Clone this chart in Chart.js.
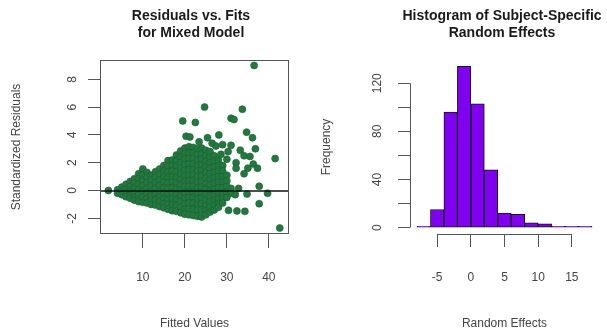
<!DOCTYPE html>
<html>
<head>
<meta charset="utf-8">
<script src="https://cdn.jsdelivr.net/npm/chart.js@4.4.1/dist/chart.umd.min.js"></script>
<style>
  html, body { margin: 0; padding: 0; background: #fff; }
  #wrap { position: relative; width: 607px; height: 331px; }
  canvas { position: absolute; top: 0; }
</style>
</head>
<body>
<div id="wrap">
  <canvas id="residChart" width="303" height="331" style="left:0"></canvas>
  <canvas id="histChart" width="304" height="331" style="left:303px"></canvas>
</div>
<script>
// ---- left panel: residuals vs fitted values ----
const residTitle = ["Residuals vs. Fits", "for Mixed Model"];
const fittedTicks = [10, 20, 30, 40];
const residTicks = [-2, 0, 2, 4, 6, 8];

// dense band, one column of residuals per fitted value
const cloudFitted = [4, 5, 6, 7, 8, 9, 10, 11, 12, 13, 14, 15, 16, 17, 18, 19, 20, 21, 22, 23, 24, 25, 26, 27, 28, 29, 30, 31];
const cloudResid = [
  [0.05, -0.2],
  [0.25, -0.05, -0.3],
  [0.45, 0.1, -0.2, -0.45],
  [0.65, 0.3, -0.05, -0.35, -0.55],
  [0.85, 0.5, 0.15, -0.2, -0.5, -0.7],
  [1.2, 0.85, 0.45, 0.05, -0.3, -0.6, -0.8],
  [1.55, 1.15, 0.75, 0.35, -0.05, -0.45, -0.85],
  [1.3, 0.95, 0.55, 0.15, -0.2, -0.55, -0.9],
  [1.1, 0.75, 0.35, -0.05, -0.4, -0.7, -1.0],
  [1.35, 0.95, 0.55, 0.15, -0.25, -0.65, -1.05],
  [1.55, 1.15, 0.75, 0.35, -0.05, -0.45, -0.8, -1.15],
  [1.8, 1.4, 1.0, 0.6, 0.2, -0.2, -0.6, -0.95, -1.25],
  [2.15, 1.75, 1.35, 0.95, 0.55, 0.15, -0.25, -0.65, -1.0, -1.35],
  [2.2, 1.8, 1.4, 1.0, 0.6, 0.2, -0.2, -0.6, -1.0, -1.45],
  [2.55, 2.15, 1.75, 1.35, 0.95, 0.55, 0.15, -0.25, -0.65, -1.05, -1.5],
  [2.85, 2.4, 2.0, 1.6, 1.2, 0.8, 0.4, 0.0, -0.4, -0.8, -1.2, -1.6],
  [3.05, 2.65, 2.25, 1.85, 1.45, 1.05, 0.65, 0.25, -0.15, -0.55, -0.95, -1.35, -1.7],
  [3.15, 2.7, 2.3, 1.9, 1.5, 1.1, 0.7, 0.3, -0.1, -0.5, -0.9, -1.3, -1.75],
  [3.1, 2.7, 2.3, 1.9, 1.5, 1.1, 0.7, 0.3, -0.1, -0.5, -0.9, -1.35, -1.8],
  [3.0, 2.6, 2.2, 1.8, 1.4, 1.0, 0.6, 0.2, -0.2, -0.6, -1.0, -1.4, -1.85],
  [3.05, 2.65, 2.25, 1.85, 1.45, 1.05, 0.65, 0.25, -0.15, -0.55, -0.95, -1.4, -1.9],
  [2.9, 2.5, 2.1, 1.7, 1.3, 0.9, 0.5, 0.1, -0.3, -0.7, -1.1, -1.45, -1.75],
  [2.8, 2.4, 2.0, 1.6, 1.2, 0.8, 0.4, 0.0, -0.4, -0.8, -1.2, -1.55],
  [2.5, 2.1, 1.7, 1.3, 0.9, 0.5, 0.1, -0.3, -0.7, -1.05, -1.4],
  [2.2, 1.8, 1.4, 1.0, 0.6, 0.2, -0.2, -0.6, -0.95, -1.2],
  [1.8, 1.4, 1.0, 0.6, 0.2, -0.2, -0.55, -0.9],
  [1.1, 0.7, 0.3, -0.1, -0.5],
  [0.15, -0.2]
];

// scattered points outside the band
const outlierFitted = [1.8, 36.5, 24.7, 33.7, 19.5, 22.5, 31.0, 31.7, 34.7, 20.3, 21.2, 25.4, 28.1, 29.0, 31.0,
  36.1, 36.8, 41.5, 34.1, 35.5, 32.2, 32.2, 34.1, 36.3, 37.3, 37.7, 39.7, 37.7, 42.6, 30.4, 32.4, 34.3,
  28.6, 32.8, 32.0, 34.8, 26.5, 27.4, 23.4, 30.0, 30.3, 33.2, 35.0];
const outlierResid = [0.0, 9.0, 6.0, 5.85, 5.0, 4.9, 5.2, 5.1, 4.2, 3.9, 3.85, 3.8, 4.0, 3.3, 3.25,
  3.8, 3.0, 2.3, 2.5, 2.45, 2.0, 1.6, 1.2, 1.9, 1.6, 0.3, -0.2, -0.95, -2.7, -1.43, -1.47, -1.5,
  2.6, 0.15, -0.3, -0.25, 3.4, 3.2, 3.5, 2.25, 2.8, 2.9, 1.6];

// ---- right panel: histogram of random effects ----
const histTitle = ["Histogram of Subject-Specific", "Random Effects"];
const binCenters = [-7, -5, -3, -1, 1, 3, 5, 7, 9, 11, 13, 15, 17];
const binCounts = [1, 15, 96, 134, 103, 48, 12, 11, 4, 3, 1, 1, 1];
const effectTicks = [-5, 0, 5, 10, 15];
const freqTicks = [0, 20, 40, 60, 80, 100, 120];
const freqLabels = ["0", "", "40", "", "80", "", "120"];

Chart.defaults.font.family = '"Liberation Sans", Arial, sans-serif';
Chart.defaults.font.size = 12;
Chart.defaults.color = "#444";

const panelTitle = {
  id: "panelTitle",
  afterDraw(chart, args, opts) {
    const { ctx } = chart;
    ctx.save();
    ctx.font = 'bold 14px "Liberation Sans", Arial, sans-serif';
    ctx.fillStyle = "#1a1a1a";
    ctx.textAlign = "center";
    ctx.textBaseline = "middle";
    opts.lines.forEach((t, i) => ctx.fillText(t, opts.cx, 16 + i * 17));
    ctx.restore();
  }
};

// box round the plot and the h = 0 reference line
const residFrame = {
  id: "residFrame",
  afterDatasetsDraw(chart) {
    const { ctx, chartArea: a, scales } = chart;
    const y0 = Math.round(scales.y.getPixelForValue(0));
    ctx.save();
    ctx.strokeStyle = "#111";
    ctx.lineWidth = 1.5;
    ctx.beginPath();
    ctx.moveTo(a.left, y0);
    ctx.lineTo(a.right, y0);
    ctx.stroke();
    ctx.strokeStyle = "#555";
    ctx.lineWidth = 1;
    ctx.strokeRect(a.left + 0.5, a.top + 0.5, a.right - a.left - 1, a.bottom - a.top - 1);
    ctx.restore();
  }
};

// axis lines spanning first to last tick, like base R
const histAxes = {
  id: "histAxes",
  afterDraw(chart) {
    const { ctx, chartArea: a, scales } = chart;
    ctx.save();
    ctx.strokeStyle = "#555";
    ctx.lineWidth = 1;
    ctx.beginPath();
    ctx.moveTo(a.left + 0.5, scales.y.getPixelForValue(freqTicks[0]));
    ctx.lineTo(a.left + 0.5, scales.y.getPixelForValue(freqTicks[freqTicks.length - 1]));
    ctx.moveTo(scales.x.getPixelForValue(effectTicks[0]), a.bottom + 0.5);
    ctx.lineTo(scales.x.getPixelForValue(effectTicks[effectTicks.length - 1]), a.bottom + 0.5);
    ctx.stroke();
    ctx.restore();
  }
};

const residPoints = [];
cloudFitted.forEach((x, i) => cloudResid[i].forEach(y => residPoints.push({ x, y })));
outlierFitted.forEach((x, i) => residPoints.push({ x, y: outlierResid[i] }));

new Chart(document.getElementById("residChart"), {
  type: "scatter",
  data: {
    datasets: [{
      data: residPoints,
      pointRadius: 3.5,
      pointBackgroundColor: "#23783f",
      pointBorderColor: "#1b5e31",
      pointBorderWidth: 0.6
    }]
  },
  options: {
    responsive: false,
    animation: false,
    layout: { padding: { top: 60, right: 14, bottom: 0, left: 0 } },
    plugins: {
      legend: { display: false },
      tooltip: { enabled: false },
      panelTitle: { lines: residTitle, cx: 191 }
    },
    scales: {
      x: {
        type: "linear",
        min: -0.2,
        max: 44.8,
        border: { display: false },
        grid: { drawOnChartArea: false, tickLength: 14, tickColor: "#555" },
        ticks: { autoSkip: false, padding: 22, callback: v => String(v) },
        afterBuildTicks: s => { s.ticks = fittedTicks.map(v => ({ value: v })); },
        afterFit: s => { s.height = 97; },
        title: { display: true, text: "Fitted Values", padding: { top: 0, bottom: 0 } }
      },
      y: {
        type: "linear",
        min: -3.13,
        max: 9.39,
        border: { display: false },
        grid: { drawOnChartArea: false, tickLength: 12, tickColor: "#555" },
        ticks: { autoSkip: false, minRotation: 90, maxRotation: 90, crossAlign: "center", padding: 10, callback: v => String(v) },
        afterBuildTicks: s => { s.ticks = residTicks.map(v => ({ value: v })); },
        afterFit: s => { s.width = 100; },
        title: { display: true, text: "Standardized Residuals", padding: { top: 9, bottom: 0 } }
      }
    }
  },
  plugins: [panelTitle, residFrame]
});

new Chart(document.getElementById("histChart"), {
  type: "bar",
  data: {
    datasets: [{
      data: binCenters.map((x, i) => ({ x, y: binCounts[i] })),
      backgroundColor: "#8000f0",
      borderColor: "#111",
      borderWidth: 1,
      borderSkipped: false,
      barPercentage: 1,
      categoryPercentage: 1
    }]
  },
  options: {
    responsive: false,
    animation: false,
    layout: { padding: { top: 60, right: 8, bottom: 0, left: 0 } },
    plugins: {
      legend: { display: false },
      tooltip: { enabled: false },
      panelTitle: { lines: histTitle, cx: 199 }
    },
    scales: {
      x: {
        type: "linear",
        min: -9.04,
        max: 19.04,
        offset: false,
        border: { display: false },
        grid: { offset: false, drawOnChartArea: false, tickLength: 13, tickColor: "#555" },
        ticks: { autoSkip: false, padding: 23, callback: v => String(v) },
        afterBuildTicks: s => { s.ticks = effectTicks.map(v => ({ value: v })); },
        afterFit: s => { s.height = 97; },
        title: { display: true, text: "Random Effects", padding: { top: 0, bottom: 0 } }
      },
      y: {
        type: "linear",
        min: -5.36,
        max: 139.36,
        border: { display: false },
        grid: { drawOnChartArea: false, tickLength: 12, tickColor: "#555" },
        ticks: { autoSkip: false, minRotation: 90, maxRotation: 90, crossAlign: "center", padding: 10, callback: (v, i) => freqLabels[i] },
        afterBuildTicks: s => { s.ticks = freqTicks.map(v => ({ value: v })); },
        afterFit: s => { s.width = 107; },
        title: { display: true, text: "Frequency", padding: { top: 16, bottom: 0 } }
      }
    }
  },
  plugins: [panelTitle, histAxes]
});
</script>
</body>
</html>
